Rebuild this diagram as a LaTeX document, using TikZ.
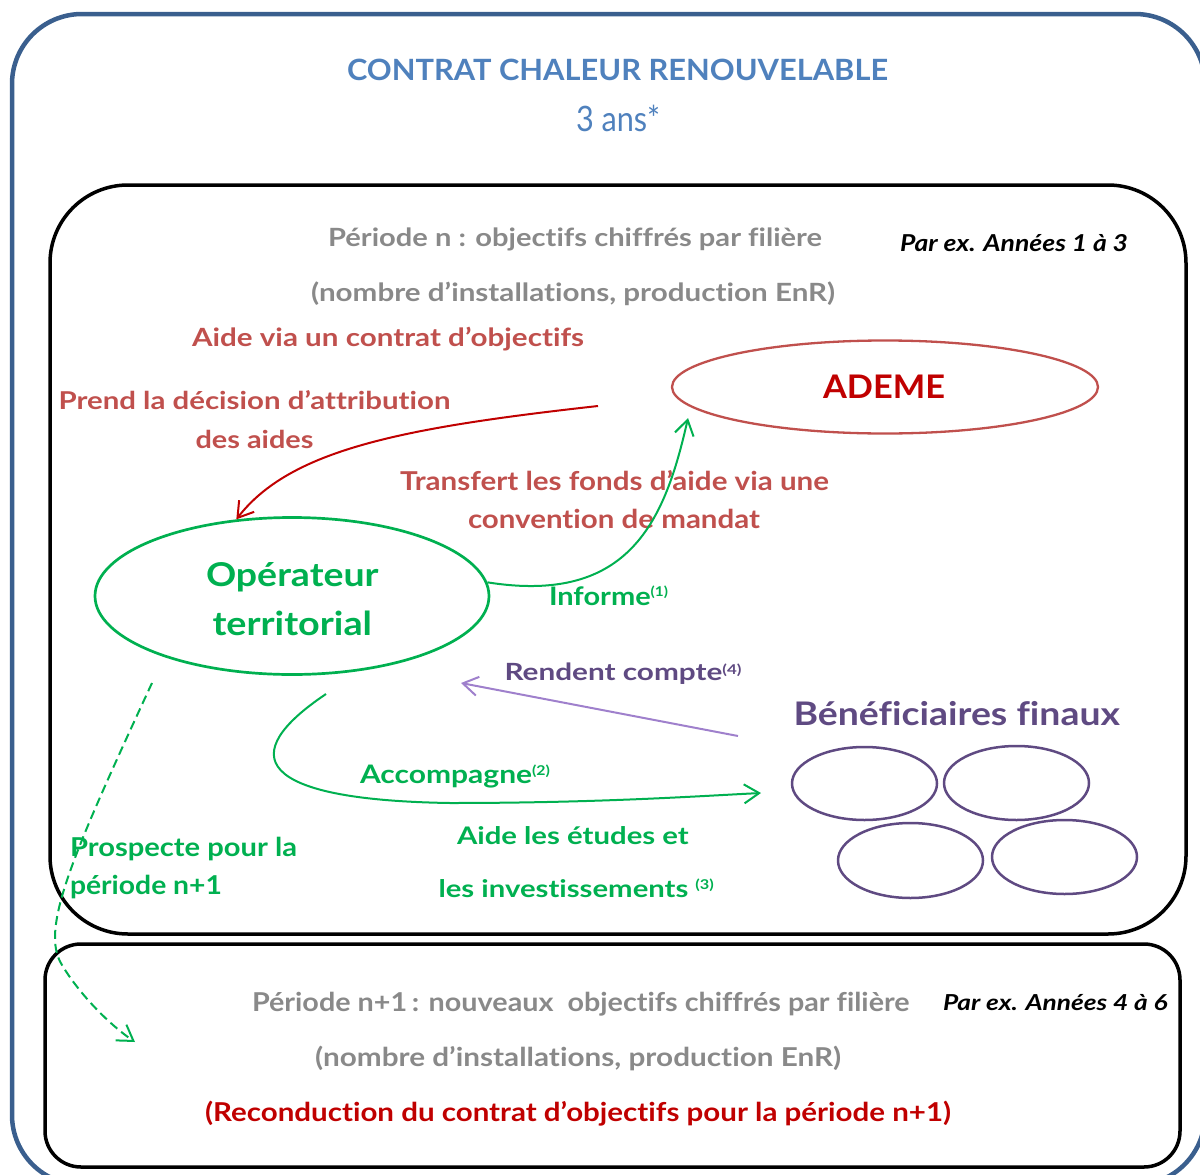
\documentclass[tikz,border=0pt]{standalone}
\usepackage{fontspec}
\usepackage{graphicx}
\setmainfont{Lato}[Ligatures=NoCommon]
\usetikzlibrary{shapes.geometric,arrows.meta}
\definecolor{outerblue}{HTML}{3A5F8E}
\definecolor{titleblue}{HTML}{4F81BD}
\definecolor{greytxt}{HTML}{898989}
\definecolor{redlbl}{HTML}{C0504D}
\definecolor{darkred}{HTML}{C00000}
\definecolor{grn}{HTML}{00B050}
\definecolor{purp}{HTML}{5F4A82}
\definecolor{lilac}{HTML}{9F80CC}
\newcommand{\fitt}[3]{\resizebox{#1pt}{\height}{\fontsize{#2pt}{#2pt}\selectfont #3}}
\newcommand{\sups}[2]{\raisebox{#1pt}{\fontsize{13.5pt}{13.5pt}\selectfont #2}}
\begin{document}
\begin{tikzpicture}[x=1pt,y=-1pt,
  lbl/.style={inner sep=0pt,outer sep=0pt,anchor=base west},
  tip/.style={-{Straight Barb[length=15pt,width=19pt]}},
  conn/.style={line width=2pt},
  ell/.style={ellipse,inner sep=0pt}]
\useasboundingbox (0,0) rectangle (1200,1175);
\begin{scope}
\clip (0,0) rectangle (1200,1175);
\draw[outerblue,line width=4.5pt,rounded corners=70pt] (12,14) rectangle (1205,1185);
\end{scope}
% frames
\draw[black,line width=3.5pt,rounded corners=78pt] (50,185) rectangle (1186,934);
\draw[black,line width=3.5pt,rounded corners=36pt] (45,944) rectangle (1180,1167);

% title
\node[lbl,text=titleblue] (title) at (347,81) {\fitt{541}{29.3}{\bfseries CONTRAT CHALEUR RENOUVELABLE}};
\node[lbl,text=titleblue] (duree) at (576,131.5) {\fitt{84}{35}{3 ans*}};

% periode n
\node[lbl,text=greytxt] (pn1) at (328,246) {\fitt{494}{25.1}{\bfseries Période n : objectifs chiffrés par filière}};
\node[lbl] (ex1) at (900,251.5) {\fitt{228}{23.3}{\bfseries\itshape Par ex. Années 1 à 3}};
\node[lbl,text=greytxt] (pn2) at (311,301) {\fitt{524}{25.1}{\bfseries (nombre d’installations, production EnR)}};

% red labels
\node[lbl,text=redlbl] (aide) at (192,346) {\fitt{392}{25.1}{\bfseries Aide via un contrat d’objectifs}};
\node[lbl,text=redlbl] (prend1) at (58.5,409) {\fitt{392}{24.6}{\bfseries Prend la décision d’attribution}};
\node[lbl,text=redlbl] (prend2) at (195.5,448) {\fitt{118}{24.6}{\bfseries des aides}};
\node[lbl,text=redlbl] (transf1) at (400,490) {\fitt{429}{26}{\bfseries Transfert les fonds d’aide via une}};
\node[lbl,text=redlbl] (transf2) at (468,528.3) {\fitt{292}{26}{\bfseries convention de mandat}};

% ADEME
\node[ell,draw=redlbl,line width=2.3pt,minimum width=426pt,minimum height=93pt] (ademe) at (885,387) {};
\node[lbl,text=darkred] (ademetxt) at (823,398) {\fitt{122}{32.5}{\bfseries ADEME}};

% Operateur
\node[ell,draw=grn,line width=2.7pt,minimum width=394pt,minimum height=157pt] (oper) at (292,596) {};
\node[lbl,text=grn] (opert1) at (206,586.5) {\fitt{172.6}{32.8}{\bfseries Opérateur}};
\node[lbl,text=grn] (opert2) at (212.5,635) {\fitt{159.5}{33}{\bfseries territorial}};

% green and purple labels
\node[lbl,text=grn] (informe) at (549,605) {\fitt{119}{25.5}{\bfseries Informe\sups{9}{(1)}}};
\node[lbl,text=purp] (rendent) at (504.5,680) {\fitt{237}{23.7}{\bfseries Rendent compte\sups{6}{(4)}}};
\node[lbl,text=purp] (benef) at (793.5,725) {\fitt{326.5}{32.5}{\bfseries Bénéficiaires finaux}};
\node[lbl,text=grn] (accomp) at (360,783) {\fitt{190}{25.5}{\bfseries Accompagne\sups{8}{(2)}}};
\node[lbl,text=grn] (etudes1) at (457,844) {\fitt{231.7}{24.2}{\bfseries Aide les études et}};
\node[lbl,text=grn] (etudes2) at (438.5,897) {\fitt{275.4}{24.2}{\bfseries les investissements \sups{8}{(3)}}};
\node[lbl,text=grn] (prosp1) at (70,856.5) {\fitt{227}{26}{\bfseries Prospecte pour la}};
\node[lbl,text=grn] (prosp2) at (70,894) {\fitt{152}{26}{\bfseries période n+1}};

% beneficiaries
\node[ell,draw=purp,line width=2.5pt,minimum width=145pt,minimum height=73pt] (b1) at (864.5,783.5) {};
\node[ell,draw=purp,line width=2.5pt,minimum width=145pt,minimum height=74pt] (b2) at (1016.5,783) {};
\node[ell,draw=purp,line width=2.5pt,minimum width=145pt,minimum height=75pt] (b3) at (910.5,860.5) {};
\node[ell,draw=purp,line width=2.5pt,minimum width=145pt,minimum height=74pt] (b4) at (1064.5,857) {};

% periode n+1
\node[lbl,text=greytxt] (pm1) at (252,1011.5) {\fitt{657.5}{26}{\bfseries Période n+1\,: nouveaux~ objectifs chiffrés par filière}};
\node[lbl] (ex2) at (943,1010.7) {\fitt{224.5}{22}{\bfseries\itshape Par ex. Années 4 à 6}};
\node[lbl,text=greytxt] (pm2) at (315,1066.5) {\fitt{526}{26}{\bfseries (nombre d’installations, production EnR)}};
\node[lbl,text=darkred] (recond) at (205,1121.5) {\fitt{746}{26}{\bfseries (Reconduction du contrat d’objectifs pour la période n+1)}};

% free ends
\coordinate (redstart) at (598,406);
\coordinate (inftip) at (688,418);
\coordinate (rcstart) at (738,736);
\coordinate (rctip) at (461,683);
\coordinate (acstart) at (326,694);
\coordinate (actip) at (761,793);
\coordinate (dstart) at (152,683);
\coordinate (dtip) at (135,1042);

% connectors
\draw[conn,darkred,tip] (redstart) .. controls (400,428) and (290,450) .. (oper.126);
\draw[conn,grn,tip] (oper.4) .. controls (630,605) and (665,520) .. (inftip);
\draw[conn,lilac,tip] (rcstart) -- (rctip);
\draw[conn,grn,tip] (acstart) .. controls (235,755) and (255,800) .. (450,803) .. controls (600,803) and (700,796) .. (actip);
\draw[conn,grn,dash pattern=on 9pt off 5pt,tip] (dstart) .. controls (70,860) and (40,930) .. (62,965) .. controls (80,995) and (110,1025) .. (dtip);
\end{tikzpicture}
\end{document}
